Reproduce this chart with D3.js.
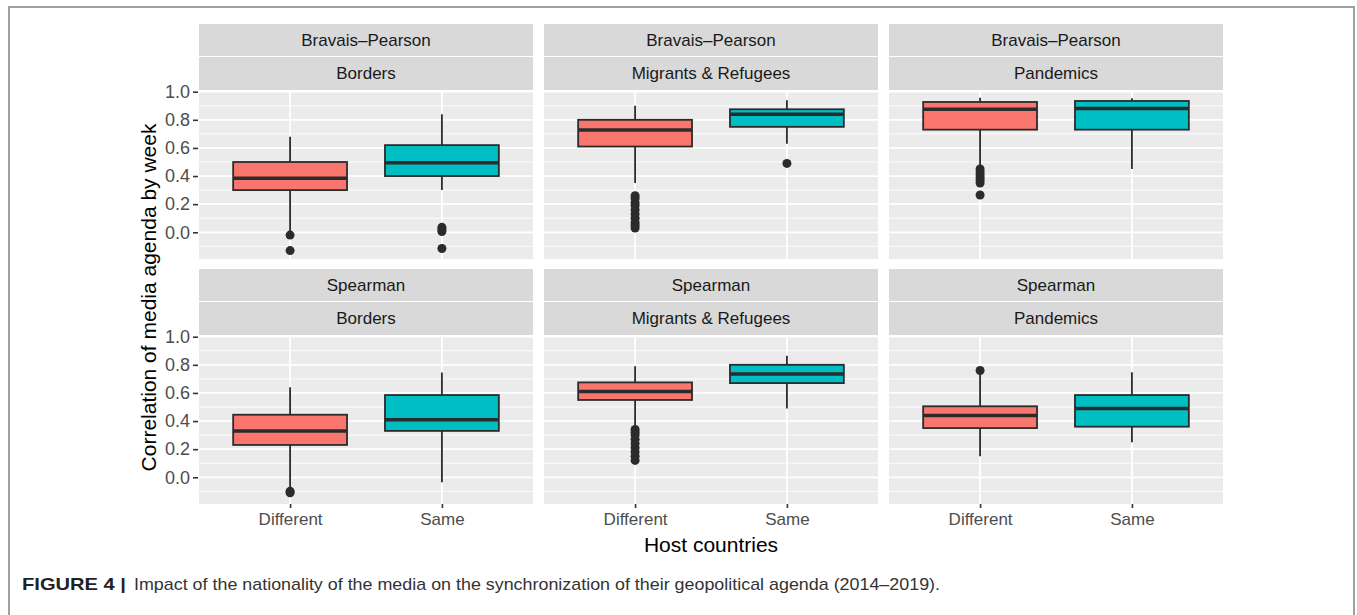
<!DOCTYPE html>
<html>
<head>
<meta charset="utf-8">
<script src="https://cdn.jsdelivr.net/npm/d3@7"></script>
<style>
  html, body { margin: 0; padding: 0; background: #fff; }
  svg { display: block; }
  text { font-family: "Liberation Sans", Arial, Helvetica, sans-serif; }
</style>
</head>
<body>
<svg id="chart" width="1357" height="615"></svg>
<script>
// ---------- data ----------
const methods = ["Bravais\u2013Pearson", "Spearman"];
const topics = ["Borders", "Migrants & Refugees", "Pandemics"];
const groups = ["Different", "Same"];
const yTicks = [0.0, 0.2, 0.4, 0.6, 0.8, 1.0];
const yMinor = [-0.1, 0.1, 0.3, 0.5, 0.7, 0.9];
const groupColors = ["#F8766D", "#00BFC4"];

// facet order: BP-Borders, BP-Migrants, BP-Pandemics, S-Borders, S-Migrants, S-Pandemics
// each entry: [Different, Same]
const whiskerLow  = [[0.00, 0.30], [0.35, 0.63], [0.46, 0.45], [-0.08, -0.035], [0.35, 0.49], [0.15, 0.25]];
const q1          = [[0.30, 0.40], [0.61, 0.75], [0.73, 0.73], [0.23, 0.33], [0.55, 0.67], [0.35, 0.36]];
const median      = [[0.385, 0.495], [0.728, 0.84], [0.875, 0.88], [0.33, 0.41], [0.61, 0.734], [0.44, 0.49]];
const q3          = [[0.50, 0.62], [0.80, 0.875], [0.927, 0.934], [0.445, 0.585], [0.675, 0.80], [0.505, 0.585]];
const whiskerHigh = [[0.68, 0.84], [0.90, 0.94], [0.957, 0.953], [0.64, 0.746], [0.79, 0.865], [0.73, 0.748]];
const outliers = [
  [[-0.02, -0.13], [0.035, 0.02, 0.005, -0.115]],
  [[0.26, 0.24, 0.21, 0.19, 0.16, 0.13, 0.10, 0.07, 0.05, 0.03], [0.49]],
  [[0.45, 0.43, 0.41, 0.39, 0.37, 0.35, 0.265], []],
  [[-0.10, -0.11], []],
  [[0.34, 0.32, 0.30, 0.27, 0.24, 0.21, 0.18, 0.15, 0.12], []],
  [[0.76], []]
];

// ---------- layout ----------
const svg = d3.select("#chart");
const panelLefts = [199, 544, 889];
const panelW = 334;
const rowTops = [24, 269];
const stripH = 32;
const panelH = 168;

// frame
svg.append("rect").attr("x", 9).attr("y", 7).attr("width", 1345).attr("height", 640)
  .attr("fill", "none").attr("stroke", "#8a8a8a").attr("stroke-width", 1.6);

const yDomain = [-0.19, 1.005];

methods.forEach((m, r) => {
  const sTop = rowTops[r];
  const pTop = sTop + 2 * stripH + 3;
  const y = d3.scaleLinear().domain(yDomain).range([pTop + panelH, pTop]);

  topics.forEach((t, c) => {
    const fi = r * 3 + c;
    const px = panelLefts[c];
    // ggplot discrete: positions 1,2 in [0.4,2.6]
    const xPos = d3.scaleLinear().domain([0.4, 2.6]).range([px, px + panelW]);
    const xc = g => xPos(groups.indexOf(g) + 1);
    const boxHalf = (xPos(1.375) - xPos(1));

    const g = svg.append("g");
    // strips
    g.append("rect").attr("x", px).attr("y", sTop).attr("width", panelW).attr("height", stripH).attr("fill", "#D9D9D9");
    g.append("rect").attr("x", px).attr("y", sTop + stripH + 1).attr("width", panelW).attr("height", stripH + 1).attr("fill", "#D9D9D9");
    g.append("text").attr("x", px + panelW / 2).attr("y", sTop + stripH / 2 + 6)
      .attr("text-anchor", "middle").attr("font-size", 17).attr("fill", "#1A1A1A").text(m);
    g.append("text").attr("x", px + panelW / 2).attr("y", sTop + stripH * 1.5 + 7)
      .attr("text-anchor", "middle").attr("font-size", 17).attr("fill", "#1A1A1A").text(t);

    // panel background
    g.append("rect").attr("x", px).attr("y", pTop).attr("width", panelW).attr("height", panelH).attr("fill", "#EBEBEB");
    // minor grid
    g.selectAll(".minor").data(yMinor).enter().append("line")
      .attr("x1", px).attr("x2", px + panelW).attr("y1", d => y(d)).attr("y2", d => y(d))
      .attr("stroke", "#fff").attr("stroke-width", 0.9);
    // major grid
    g.selectAll(".major").data(yTicks).enter().append("line")
      .attr("x1", px).attr("x2", px + panelW).attr("y1", d => y(d)).attr("y2", d => y(d))
      .attr("stroke", "#fff").attr("stroke-width", 1.8);
    g.selectAll(".vmajor").data(groups).enter().append("line")
      .attr("x1", d => xc(d)).attr("x2", d => xc(d)).attr("y1", pTop).attr("y2", pTop + panelH)
      .attr("stroke", "#fff").attr("stroke-width", 1.8);

    // boxes
    groups.forEach((grp, gi) => {
      const cx = xc(grp);
      const stroke = "#2b2b2b";
      g.append("line").attr("x1", cx).attr("x2", cx)
        .attr("y1", y(whiskerHigh[fi][gi])).attr("y2", y(q3[fi][gi]))
        .attr("stroke", stroke).attr("stroke-width", 1.8);
      g.append("line").attr("x1", cx).attr("x2", cx)
        .attr("y1", y(q1[fi][gi])).attr("y2", y(whiskerLow[fi][gi]))
        .attr("stroke", stroke).attr("stroke-width", 1.8);
      g.append("rect").attr("x", cx - boxHalf).attr("width", 2 * boxHalf)
        .attr("y", y(q3[fi][gi])).attr("height", y(q1[fi][gi]) - y(q3[fi][gi]))
        .attr("fill", groupColors[gi]).attr("stroke", stroke).attr("stroke-width", 1.8);
      g.append("line").attr("x1", cx - boxHalf).attr("x2", cx + boxHalf)
        .attr("y1", y(median[fi][gi])).attr("y2", y(median[fi][gi]))
        .attr("stroke", stroke).attr("stroke-width", 3.5);
      g.selectAll(null).data(outliers[fi][gi]).enter().append("circle")
        .attr("cx", cx).attr("cy", d => y(d)).attr("r", 4.5).attr("fill", "#2b2b2b");
    });

    // y axis on first column
    if (c === 0) {
      const ax = d3.axisLeft(y).tickValues(yTicks).tickFormat(d3.format(".1f")).tickSize(5).tickPadding(3);
      const a = svg.append("g").attr("transform", `translate(${px - 1},0)`).call(ax);
      a.select(".domain").remove();
      a.selectAll(".tick line").attr("stroke", "#333").attr("stroke-width", 1.6);
      a.selectAll(".tick text").attr("fill", "#4D4D4D").attr("font-size", 18)
        .attr("font-family", "Liberation Sans, Arial, sans-serif");
    }
    // x axis on bottom row
    if (r === 1) {
      const ax = d3.axisBottom(xPos).tickValues([1, 2]).tickFormat(d => groups[d - 1]).tickSize(4).tickPadding(5);
      const a = svg.append("g").attr("transform", `translate(0,${pTop + panelH})`).call(ax);
      a.select(".domain").remove();
      a.selectAll(".tick line").attr("stroke", "#333").attr("stroke-width", 1.6);
      a.selectAll(".tick text").attr("fill", "#4D4D4D").attr("font-size", 17)
        .attr("font-family", "Liberation Sans, Arial, sans-serif");
    }
  });
});

// axis titles
svg.append("text").attr("x", 711).attr("y", 552).attr("text-anchor", "middle")
  .attr("font-size", 21).attr("fill", "#000").text("Host countries");
svg.append("text").attr("transform", "translate(156,297.5) rotate(-90)").attr("text-anchor", "middle")
  .attr("font-size", 21).attr("fill", "#000").text("Correlation of media agenda by week");

// caption
svg.append("text").attr("x", 22).attr("y", 590).attr("font-size", 17).attr("fill", "#222")
  .attr("font-weight", "bold").attr("textLength", 104).attr("lengthAdjust", "spacingAndGlyphs").text("FIGURE 4 |");
svg.append("text").attr("x", 134).attr("y", 590).attr("font-size", 17).attr("fill", "#333")
  .attr("textLength", 806).attr("lengthAdjust", "spacingAndGlyphs")
  .text("Impact of the nationality of the media on the synchronization of their geopolitical agenda (2014\u20132019).");
</script>
</body>
</html>
